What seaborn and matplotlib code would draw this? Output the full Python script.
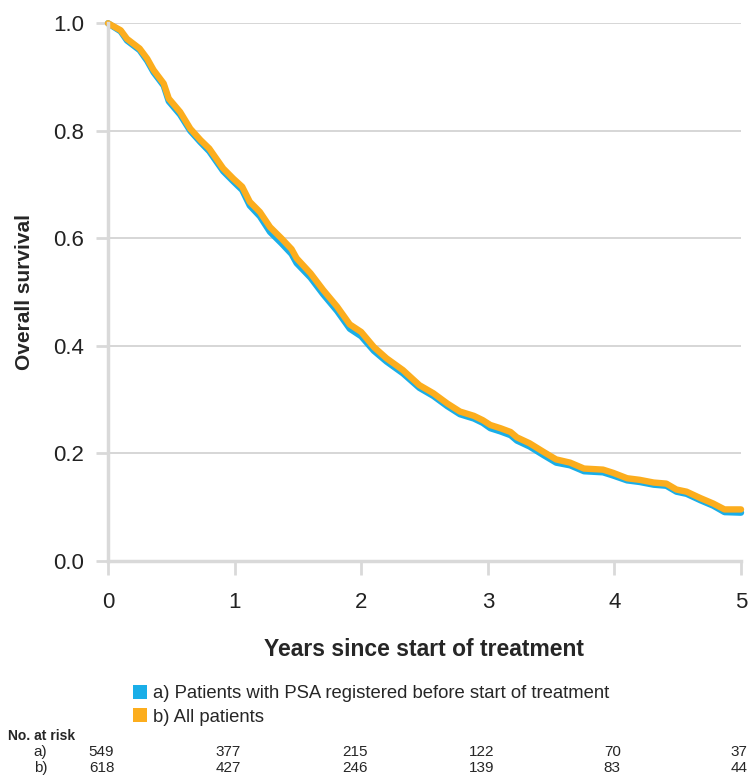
import numpy as np
import matplotlib
matplotlib.use("Agg")
import matplotlib.pyplot as plt
import matplotlib.transforms as mtransforms
from matplotlib.patches import Patch
import seaborn as sns
import pandas as pd

# Kaplan-Meier curves
years = [0, 0.1, 0.15, 0.25, 0.31, 0.36, 0.44, 0.48, 0.57, 0.65,
         0.73, 0.80, 0.91, 0.99, 1.06, 1.12, 1.20, 1.28, 1.37, 1.45,
         1.49, 1.60, 1.70, 1.81, 1.91, 2.00, 2.10, 2.20, 2.33, 2.46,
         2.57, 2.68, 2.78, 2.89, 2.96, 3.02, 3.10, 3.18, 3.23, 3.33,
         3.44, 3.54, 3.65, 3.76, 3.91, 3.99, 4.10, 4.20, 4.31, 4.41,
         4.49, 4.57, 4.68, 4.78, 4.87, 5.0]
surv_psa = [1.0, 0.985, 0.968, 0.950, 0.930, 0.909, 0.884, 0.855, 0.830, 0.800,
            0.779, 0.762, 0.725, 0.706, 0.690, 0.661, 0.641, 0.612, 0.591, 0.571,
            0.554, 0.527, 0.496, 0.465, 0.432, 0.418, 0.391, 0.371, 0.349, 0.322,
            0.307, 0.288, 0.273, 0.265, 0.257, 0.247, 0.241, 0.234, 0.224, 0.213,
            0.197, 0.183, 0.178, 0.167, 0.165, 0.159, 0.150, 0.147, 0.142, 0.140,
            0.129, 0.125, 0.113, 0.103, 0.091, 0.090]
surv_all = [1.0, 0.987, 0.971, 0.953, 0.934, 0.913, 0.888, 0.860, 0.835, 0.804,
            0.783, 0.767, 0.730, 0.711, 0.696, 0.668, 0.649, 0.621, 0.600, 0.580,
            0.563, 0.535, 0.504, 0.473, 0.440, 0.426, 0.398, 0.377, 0.355, 0.327,
            0.312, 0.293, 0.278, 0.270, 0.262, 0.253, 0.247, 0.240, 0.230, 0.219,
            0.203, 0.189, 0.183, 0.172, 0.170, 0.164, 0.154, 0.151, 0.146, 0.144,
            0.133, 0.129, 0.117, 0.107, 0.096, 0.096]

groups = ["a) Patients with PSA registered before start of treatment", "b) All patients"]
colors = ["#1aaee8", "#fcad1d"]

risk_years = [0, 1, 2, 3, 4, 5]
at_risk_a = [549, 377, 215, 122, 70, 37]
at_risk_b = [618, 427, 246, 139, 83, 44]

df = pd.concat([
    pd.DataFrame({"years": years, "surv": surv_psa, "group": groups[0]}),
    pd.DataFrame({"years": years, "surv": surv_all, "group": groups[1]}),
])

sns.set_style("white")
plt.rcParams["font.family"] = ["Liberation Sans", "DejaVu Sans"]

fig = plt.figure(figsize=(7.5, 7.76), dpi=100)
ax = fig.add_axes([0.144, 0.277, 0.844, 0.693])

sns.lineplot(data=df, x="years", y="surv", hue="group", palette=colors,
             estimator=None, sort=False, linewidth=4.6, legend=False, ax=ax)
for line in ax.lines:
    line.set_clip_on(False)
    line.set_solid_capstyle("round")

ax.set_xlim(0, 5)
ax.set_ylim(0, 1)
ax.set_xticks(risk_years)
ax.set_yticks([0, 0.2, 0.4, 0.6, 0.8, 1.0])
ax.set_yticklabels(["0.0", "0.2", "0.4", "0.6", "0.8", "1.0"])
ax.yaxis.grid(True, color="#cfcfcf", linewidth=1.2)
ax.set_axisbelow(True)
for s in ["top", "right"]:
    ax.spines[s].set_visible(False)
for s in ["left", "bottom"]:
    ax.spines[s].set_color("#d9d9d9")
    ax.spines[s].set_linewidth(2.5)
ax.tick_params(axis="y", left=True, length=9, width=2, color="#d9d9d9", pad=8,
               labelsize=16, labelcolor="#222222")
ax.tick_params(axis="x", bottom=True, length=10, width=2, color="#d9d9d9", pad=12,
               labelsize=16, labelcolor="#222222")

ax.set_xlabel("Years since start of treatment", fontsize=16.5, fontweight="bold", labelpad=18)
ax.set_ylabel("Overall survival", fontsize=15, fontweight="bold", labelpad=14)

handles = [Patch(facecolor=c, edgecolor="none") for c in colors]
fig.legend(handles, groups, loc="upper left", bbox_to_anchor=(0.177, 1 - 685 / 776),
           frameon=False, fontsize=13.3, handlelength=0.75, handleheight=0.8,
           handletextpad=0.35, labelspacing=0.3, borderpad=0, borderaxespad=0)

trans = mtransforms.blended_transform_factory(ax.transData, fig.transFigure)
fig.text(0.011, 1 - 736 / 776, "No. at risk", fontsize=10, fontweight="bold", va="center")
fig.text(0.063, 1 - 752 / 776, "a)", fontsize=11, ha="right", va="center")
fig.text(0.063, 1 - 768 / 776, "b)", fontsize=11, ha="right", va="center")
for yr, na, nb in zip(risk_years, at_risk_a, at_risk_b):
    ax.text(yr + 0.05, 1 - 752 / 776, str(na), transform=trans, fontsize=11, ha="right", va="center")
    ax.text(yr + 0.05, 1 - 768 / 776, str(nb), transform=trans, fontsize=11, ha="right", va="center")

fig.savefig("out.png", dpi=100)
